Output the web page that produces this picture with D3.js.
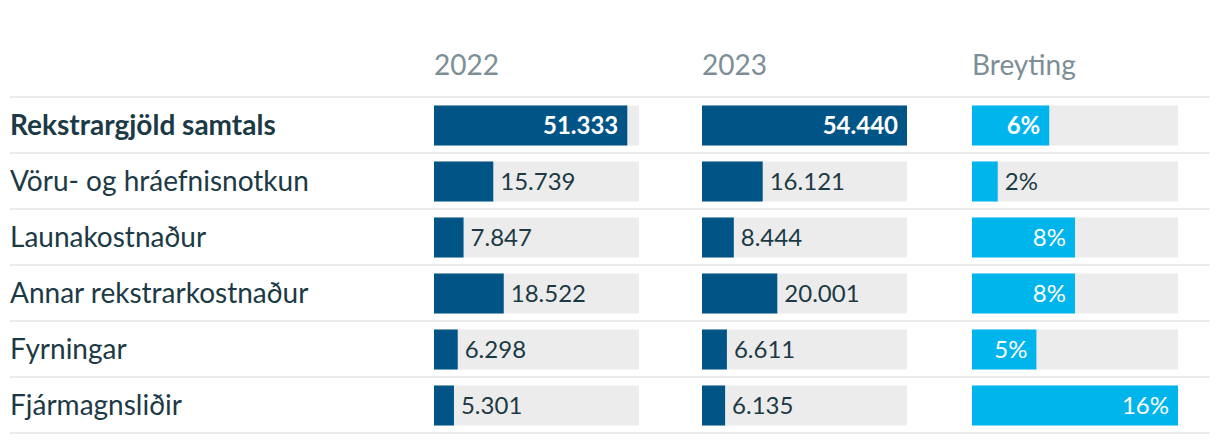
<!DOCTYPE html>
<html><head><meta charset="utf-8">
<script src="https://cdn.jsdelivr.net/npm/d3@7/dist/d3.min.js"></script>
<style>
html,body{margin:0;padding:0;background:#fff;}
svg{display:block;font-family:Lato,"Open Sans",sans-serif;}
</style></head>
<body>
<svg id="chart" width="1220" height="444"></svg>
<script>
const categories = ["Rekstrargjöld samtals","Vöru- og hráefnisnotkun","Launakostnaður","Annar rekstrarkostnaður","Fyrningar","Fjármagnsliðir"];
const values2022 = [51.333,15.739,7.847,18.522,6.298,5.301];
const values2023 = [54.440,16.121,8.444,20.001,6.611,6.135];
const changePct = [6,2,8,8,5,16];
const headers = ["2022","2023","Breyting"];

(function(){
const svg = d3.select("#chart");
const topY = 97, rowH = 56;
const y = d3.scaleBand().domain(categories).range([topY, topY + rowH*categories.length]).paddingInner(0).paddingOuter(0);
const barH = 40;

const colW = 205;
const cols = [
  {x:434, data: values2022, scale: d3.scaleLinear().domain([0,54.44]).range([0,colW]), color:"#015486", fmt: d=>d3.format(".3f")(d), minInside: 120},
  {x:702, data: values2023, scale: d3.scaleLinear().domain([0,54.44]).range([0,colW]), color:"#015486", fmt: d=>d3.format(".3f")(d), minInside: 120},
  {x:972, data: changePct, scale: d3.scaleLinear().domain([0,16]).range([0,206]), color:"#00b5ec", fmt: d=>d+"%", minInside: 50}
];

svg.selectAll("text.hdr").data(headers).join("text")
  .attr("class","hdr")
  .attr("x",(d,i)=>cols[i].x)
  .attr("y",75)
  .attr("font-size",28)
  .attr("fill","#7d8e96")
  .text(d=>d);

const lineYs = [topY].concat(categories.map(c=>y(c)+rowH));
svg.selectAll("line.sep").data(lineYs).join("line")
  .attr("class","sep")
  .attr("x1",10).attr("x2",1210)
  .attr("y1",d=>d).attr("y2",d=>d)
  .attr("stroke","#ebebeb").attr("stroke-width",2);

svg.selectAll("text.lbl").data(categories).join("text")
  .attr("class","lbl")
  .attr("x",10)
  .attr("y",d=>y(d)+rowH/2+10)
  .attr("font-size",28)
  .attr("font-weight",(d,i)=>i===0?700:400)
  .attr("fill","#1c3a45")
  .text(d=>d);

cols.forEach((c,ci)=>{
  const g = svg.append("g");
  const w = c.scale.range()[1];
  g.selectAll("rect.bg").data(categories).join("rect")
    .attr("class","bg")
    .attr("x",c.x).attr("y",d=>y(d)+(rowH-barH)/2+0.5)
    .attr("width",w).attr("height",barH).attr("fill","#ececec");
  g.selectAll("rect.bar").data(c.data).join("rect")
    .attr("class","bar")
    .attr("x",c.x).attr("y",(d,i)=>y(categories[i])+(rowH-barH)/2+0.5)
    .attr("width",d=>c.scale(d)).attr("height",barH).attr("fill",c.color);
  g.selectAll("text.val").data(c.data).join("text")
    .attr("class","val")
    .each(function(d,i){
      const bw = c.scale(d);
      const inside = bw >= c.minInside;
      d3.select(this)
        .attr("x", inside ? c.x + bw - 9 : c.x + bw + 7)
        .attr("text-anchor", inside ? "end" : "start")
        .attr("fill", inside ? "#ffffff" : "#1c3a45")
        .attr("font-weight", i===0 ? 700 : 400);
    })
    .attr("y",(d,i)=>y(categories[i])+rowH/2+9)
    .attr("font-size",24)
    .text(d=>c.fmt(d));
});
})();
</script>
</body></html>
